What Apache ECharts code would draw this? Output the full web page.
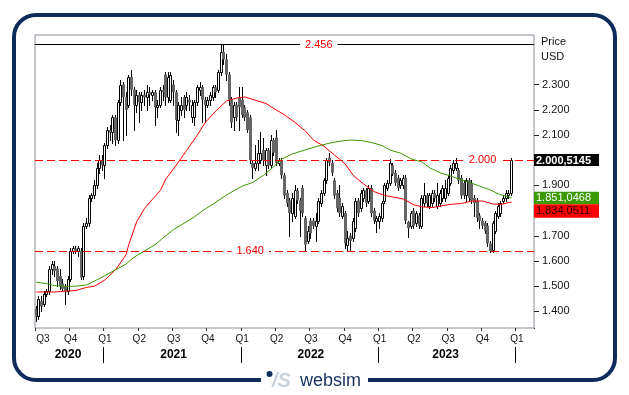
<!DOCTYPE html>
<html><head><meta charset="utf-8">
<script src="https://cdn.jsdelivr.net/npm/echarts@6/dist/echarts.min.js"></script>
<style>html,body{margin:0;padding:0;background:#fff}#c{width:629px;height:395px}</style>
</head><body><div id="c"></div>
<script>
// ---------- data ----------
const weekCount = 189;            // weekly slots on the time axis
const firstWeek = Date.UTC(2020, 6, 6);
const categories = [];
for (let k = 0; k < weekCount; k++) {
  categories.push(new Date(firstWeek + k * 7 * 86400000).toISOString().slice(0, 10));
}

// weekly bars: [open, close, low, high]
const ohlc = [
[1.41,1.38,1.36,1.42],[1.38,1.45,1.37,1.46],[1.44,1.42,1.40,1.46],[1.43,1.47,1.42,1.48],[1.47,1.48,1.46,1.49],
[1.48,1.57,1.47,1.58],[1.57,1.59,1.55,1.60],[1.58,1.56,1.54,1.60],[1.57,1.52,1.50,1.58],[1.54,1.50,1.49,1.57],
[1.51,1.49,1.48,1.53],[1.50,1.48,1.43,1.51],[1.48,1.53,1.47,1.54],[1.53,1.64,1.52,1.65],[1.64,1.65,1.63,1.66],
[1.65,1.64,1.63,1.66],[1.64,1.65,1.62,1.66],[1.64,1.535,1.53,1.65],[1.54,1.74,1.53,1.75],[1.74,1.75,1.73,1.77],
[1.75,1.85,1.74,1.86],[1.85,1.86,1.84,1.87],[1.86,1.90,1.85,1.92],[1.90,1.97,1.89,1.99],[1.97,2.00,1.95,2.02],
[2.00,1.98,1.96,2.02],[1.98,2.06,1.93,2.07],[2.06,2.12,2.05,2.13],[2.12,2.11,2.08,2.14],[2.11,2.17,2.07,2.18],
[2.17,2.08,2.06,2.18],[2.08,2.23,2.07,2.24],[2.23,2.30,2.22,2.32],[2.30,2.25,2.08,2.31],[2.25,2.20,2.10,2.27],
[2.22,2.33,2.21,2.34],[2.33,2.28,2.26,2.36],[2.28,2.22,2.12,2.29],[2.22,2.26,2.19,2.28],[2.26,2.23,2.15,2.27],
[2.23,2.26,2.20,2.27],[2.26,2.25,2.22,2.28],[2.25,2.27,2.20,2.30],[2.27,2.26,2.22,2.29],[2.26,2.27,2.24,2.28],
[2.27,2.21,2.14,2.28],[2.21,2.22,2.17,2.24],[2.22,2.28,2.21,2.29],[2.28,2.27,2.24,2.30],[2.34,2.25,2.22,2.35],
[2.25,2.33,2.23,2.35],[2.24,2.34,2.23,2.35],[2.30,2.27,2.22,2.32],[2.27,2.16,2.11,2.28],[2.16,2.22,2.10,2.23],
[2.20,2.22,2.18,2.25],[2.25,2.20,2.17,2.26],[2.22,2.25,2.20,2.27],[2.24,2.23,2.20,2.26],[2.17,2.22,2.15,2.24],
[2.17,2.23,2.14,2.24],[2.23,2.29,2.22,2.30],[2.28,2.29,2.26,2.31],[2.29,2.24,2.15,2.30],[2.24,2.22,2.15,2.25],
[2.22,2.24,2.21,2.25],[2.24,2.26,2.22,2.27],[2.25,2.29,2.24,2.30],[2.29,2.27,2.25,2.30],[2.28,2.35,2.27,2.36],
[2.35,2.43,2.34,2.456],[2.43,2.40,2.38,2.456],[2.40,2.34,2.32,2.42],[2.34,2.24,2.22,2.35],[2.24,2.15,2.13,2.25],
[2.17,2.22,2.12,2.23],[2.22,2.17,2.16,2.23],[2.25,2.21,2.12,2.29],[2.24,2.18,2.17,2.29],[2.21,2.17,2.16,2.22],
[2.19,2.12,2.11,2.20],[2.17,2.00,1.99,2.18],[1.99,1.97,1.93,2.00],[1.97,1.99,1.96,2.06],[1.99,2.03,1.96,2.08],
[2.00,2.03,1.99,2.11],[2.04,2.00,1.98,2.09],[1.98,2.04,1.94,2.05],[2.04,1.98,1.97,2.05],[1.98,2.08,1.97,2.10],
[2.08,2.03,2.02,2.09],[2.09,1.99,1.98,2.12],[1.99,2.00,1.98,2.01],[2.00,1.94,1.93,2.01],[1.94,1.86,1.85,1.95],
[1.87,1.83,1.82,1.88],[1.84,1.79,1.70,1.85],[1.79,1.85,1.76,1.87],[1.78,1.88,1.77,1.90],[1.88,1.84,1.83,1.89],
[1.84,1.80,1.70,1.85],[1.89,1.79,1.78,1.90],[1.77,1.665,1.64,1.78],[1.68,1.72,1.67,1.74],[1.76,1.71,1.69,1.77],
[1.76,1.74,1.73,1.77],[1.74,1.76,1.68,1.79],[1.76,1.84,1.75,1.85],[1.83,1.87,1.82,1.88],[1.87,1.92,1.86,1.93],
[1.92,2.00,1.91,2.01],[2.01,1.99,1.98,2.03],[1.99,1.95,1.94,2.00],[1.92,1.86,1.85,1.93],[1.87,1.81,1.80,1.88],
[1.85,1.79,1.78,1.90],[1.78,1.82,1.77,1.83],[1.79,1.67,1.65,1.80],[1.665,1.69,1.64,1.72],[1.70,1.68,1.64,1.71],
[1.69,1.76,1.68,1.77],[1.73,1.84,1.72,1.85],[1.84,1.79,1.78,1.85],[1.81,1.87,1.80,1.88],[1.85,1.88,1.84,1.89],
[1.88,1.83,1.82,1.89],[1.84,1.89,1.83,1.90],[1.89,1.79,1.78,1.90],[1.80,1.76,1.75,1.81],[1.76,1.77,1.715,1.78],
[1.76,1.78,1.73,1.79],[1.77,1.83,1.76,1.84],[1.84,1.90,1.83,1.91],[1.89,1.91,1.88,1.92],[1.91,1.99,1.90,2.006],
[1.98,1.945,1.94,1.99],[1.95,1.91,1.90,1.96],[1.93,1.89,1.88,1.94],[1.90,1.92,1.89,1.93],[1.90,1.93,1.89,1.94],
[1.93,1.76,1.75,1.94],[1.755,1.73,1.695,1.76],[1.74,1.79,1.73,1.80],[1.80,1.74,1.73,1.81],[1.75,1.79,1.74,1.80],
[1.78,1.74,1.73,1.79],[1.74,1.85,1.73,1.86],[1.83,1.86,1.82,1.91],[1.86,1.83,1.82,1.87],[1.82,1.86,1.81,1.87],
[1.83,1.87,1.82,1.88],[1.87,1.85,1.84,1.88],[1.82,1.86,1.81,1.91],[1.83,1.87,1.82,1.88],[1.85,1.89,1.84,1.90],
[1.85,1.89,1.84,1.92],[1.87,1.93,1.86,1.94],[1.91,1.97,1.90,1.98],[1.96,1.99,1.95,2.00],[1.97,1.99,1.96,2.01],
[1.96,1.92,1.91,1.97],[1.93,1.86,1.85,1.94],[1.91,1.86,1.85,1.92],[1.86,1.92,1.84,1.93],[1.92,1.85,1.84,1.93],
[1.91,1.84,1.83,1.92],[1.85,1.83,1.78,1.86],[1.84,1.77,1.76,1.85],[1.78,1.76,1.73,1.79],[1.76,1.74,1.73,1.77],
[1.75,1.72,1.71,1.76],[1.74,1.67,1.66,1.75],[1.67,1.64,1.635,1.68],[1.645,1.75,1.635,1.76],[1.72,1.79,1.71,1.80],
[1.78,1.82,1.77,1.83],[1.79,1.83,1.78,1.84],[1.84,1.85,1.83,1.86],[1.85,1.87,1.84,1.88],[1.86,1.87,1.85,1.88],
[1.87,2.0005,1.86,2.01]
];

// moving averages: [week index, value]
const maRed = [
[0,1.477],[7,1.477],[15,1.483],[19,1.495],[22,1.50],[26,1.525],[30,1.565],[34,1.625],[35,1.665],[38,1.755],
[41,1.809],[44,1.845],[47,1.88],[49,1.925],[53,1.98],[57,2.04],[61,2.10],[64,2.15],[68,2.195],[72,2.235],
[76,2.247],[79,2.251],[83,2.238],[87,2.225],[90,2.205],[94,2.18],[98,2.15],[102,2.115],[105,2.08],[109,2.055],
[113,2.02],[117,1.985],[120,1.94],[124,1.905],[128,1.875],[132,1.86],[135,1.854],[139,1.846],[143,1.823],[146,1.815],
[150,1.812],[154,1.82],[158,1.826],[161,1.828],[165,1.838],[169,1.838],[173,1.826],[176,1.825],[180,1.834]
];
const maGreen = [
[0,1.516],[4,1.51],[7,1.502],[11,1.499],[15,1.50],[19,1.505],[22,1.52],[26,1.542],[30,1.565],[34,1.588],
[37,1.615],[41,1.64],[45,1.665],[49,1.70],[52,1.725],[56,1.75],[60,1.776],[63,1.80],[67,1.826],[71,1.855],
[75,1.88],[78,1.897],[82,1.912],[86,1.94],[90,1.975],[93,2.005],[97,2.025],[101,2.038],[104,2.048],[108,2.06],
[112,2.07],[116,2.077],[119,2.08],[123,2.078],[127,2.07],[131,2.058],[134,2.04],[138,2.028],[142,2.005],[146,1.993],
[149,1.97],[153,1.95],[157,1.937],[160,1.925],[164,1.912],[168,1.897],[172,1.882],[175,1.866],[180,1.851]
];

const yTicks = [1.4, 1.5, 1.6, 1.7, 1.8, 1.9, 2.0, 2.1, 2.2, 2.3];
const levelHigh = 2.456, levelResistance = 2.000, levelSupport = 1.640;
const lastClose = { text: '2.000,5145', value: 2.0005145 };
const lastGreen = { text: '1.851,0468', value: 1.8510468 };
const lastRed   = { text: '1.834,0511', value: 1.8340511 };
const yearLabels = { 12: '2020', 52: '2021', 104: '2022', 155: '2023' };

// ---------- chart ----------
const FONT = '"Liberation Sans", Arial, sans-serif';
const isQuarterStart = (idx, v) => { const m = +v.slice(5, 7), d = +v.slice(8, 10); return (m - 1) % 3 === 0 && d <= 7; };
const isYearStart = (idx, v) => { const m = +v.slice(5, 7), d = +v.slice(8, 10); return m === 1 && d <= 7; };

const chart = echarts.init(document.getElementById('c'), null, { renderer: 'canvas' });

function renderCandle(params, api) {
  const i = api.value(0), o = api.value(1), c = api.value(2), l = api.value(3), h = api.value(4);
  const pO = api.coord([i, o]), pC = api.coord([i, c]), pL = api.coord([i, l]), pH = api.coord([i, h]);
  const X = Math.floor(pO[0]);
  const top = Math.min(pO[1], pC[1]), bot = Math.max(pO[1], pC[1]);
  const children = [{
    type: 'line',
    shape: { x1: X + 0.5, y1: Math.round(pH[1]), x2: X + 0.5, y2: Math.round(pL[1]) + 1 },
    style: { stroke: '#000', lineWidth: 1 }
  }];
  if (c >= o) {
    const t = Math.round(top), b = Math.round(bot);
    children.push({ type: 'rect', shape: { x: X - 0.5, y: t + 0.5, width: 2, height: Math.max(1, b - t) },
      style: { fill: '#fff', stroke: '#000', lineWidth: 1 } });
  } else {
    children.push({ type: 'rect', shape: { x: X - 1, y: top, width: 3, height: Math.max(1.5, bot - top) },
      style: { fill: '#666' } });
  }
  return { type: 'group', children };
}

chart.setOption({
  animation: false,
  backgroundColor: '#fff',
  textStyle: { fontFamily: FONT },
  grid: { left: 35, top: 35, right: 95, bottom: 67, show: true, borderColor: '#8c8c99', borderWidth: 1, backgroundColor: '#fff' },
  xAxis: [{
    type: 'category', data: categories, boundaryGap: true,
    axisLine: { show: false },
    axisTick: { show: true, length: 3, interval: isQuarterStart, lineStyle: { color: '#333' } },
    axisLabel: {
      interval: isQuarterStart,
      formatter: v => 'Q' + (Math.floor((+v.slice(5, 7) - 1) / 3) + 1),
      fontSize: 10, color: '#111', margin: 6, alignMinLabel: 'left', fontFamily: FONT
    },
    splitLine: { show: false }
  }, {
    type: 'category', data: categories, boundaryGap: true, position: 'bottom', offset: 19,
    axisLine: { show: false },
    axisTick: { show: true, length: 16, interval: isYearStart, lineStyle: { color: '#000' } },
    axisLabel: {
      interval: idx => yearLabels[idx] !== undefined,
      formatter: (v, idx) => yearLabels[idx] || '',
      fontSize: 12, fontWeight: 'bold', color: '#000', margin: 2, fontFamily: FONT
    },
    splitLine: { show: false }
  }],
  yAxis: {
    type: 'value', position: 'right', min: 1.334, max: 2.497,
    splitLine: { show: false },
    axisLine: { show: false },
    axisTick: { show: true, length: 5, customValues: yTicks, lineStyle: { color: '#222' } },
    axisLabel: { customValues: yTicks, formatter: v => v.toFixed(3), fontSize: 11, color: '#111', margin: 8, fontFamily: FONT }
  },
  series: [{
    type: 'custom', name: 'Price',
    data: ohlc.map((d, i) => [i, d[0], d[1], d[2], d[3]]),
    encode: { x: 0, y: [1, 2, 3, 4] },
    renderItem: renderCandle,
    z: 2
  }, {
    type: 'line', name: 'MA red', data: maRed, showSymbol: false, symbol: 'none',
    lineStyle: { color: '#ff0000', width: 1 }, z: 3, silent: true,
    markLine: {
      silent: true, symbol: ['none', 'none'], label: { show: false }, animation: false,
      data: [
        { yAxis: levelHigh, lineStyle: { color: '#000', type: 'solid', width: 1 } },
        { yAxis: levelResistance, lineStyle: { color: '#ff0000', type: [8, 4], width: 1 } },
        { yAxis: levelSupport, lineStyle: { color: '#ff0000', type: [8, 4], width: 1 } }
      ]
    },
    markPoint: {
      silent: true, symbol: 'rect', symbolSize: [1, 1], z: 10, animation: false,
      itemStyle: { color: 'rgba(0,0,0,0)' },
      label: { show: true, position: 'inside', color: '#ff0000', fontSize: 11, fontFamily: FONT,
        backgroundColor: '#fff', padding: [1, 5], formatter: p => p.name },
      data: [
        { name: levelHigh.toFixed(3), coord: [107, levelHigh] },
        { name: levelResistance.toFixed(3), coord: [169, levelResistance] },
        { name: levelSupport.toFixed(3), coord: [81, levelSupport] }
      ]
    }
  }, {
    type: 'line', name: 'MA green', data: maGreen, showSymbol: false, symbol: 'none',
    lineStyle: { color: '#3a9a00', width: 1 }, z: 3, silent: true
  }]
});

// ---------- decorations and value boxes ----------
const yOf = v => chart.convertToPixel({ yAxisIndex: 0 }, v);
const boxX = 534, boxW = 65;
const bY = yOf(lastClose.value) - 6;
const gY = yOf(lastGreen.value) - 6;
let rY = yOf(lastRed.value) - 6;
if (rY < gY + 12.5) rY = gY + 12.5;
const NAVY = '#0d2c5c';

chart.setOption({
  graphic: [
    { type: 'rect', z: 1, shape: { x: 14, y: 15, width: 601, height: 365, r: 22 }, style: { fill: 'none', stroke: NAVY, lineWidth: 4 } },
    { type: 'rect', z: 50, shape: { x: 531, y: 329, width: 7, height: 36 }, style: { fill: '#fff' } },
    { type: 'rect', z: 2, shape: { x: 261, y: 376, width: 107, height: 9 }, style: { fill: '#fff' } },
    { type: 'circle', z: 3, shape: { cx: 269.5, cy: 374, r: 3 }, style: { fill: NAVY } },
    { type: 'text', z: 3, style: { x: 272, y: 381, text: '/S', fill: '#c9d3e0', font: 'italic bold 20px ' + FONT, verticalAlign: 'middle' } },
    { type: 'text', z: 3, style: { x: 300, y: 381, text: 'websim', fill: '#14305e', font: '18px ' + FONT, verticalAlign: 'middle' } },
    { type: 'text', z: 3, style: { x: 541, y: 42, text: 'Price', fill: '#111', font: '11px ' + FONT, verticalAlign: 'middle' } },
    { type: 'text', z: 3, style: { x: 541, y: 57, text: 'USD', fill: '#111', font: '11px ' + FONT, verticalAlign: 'middle' } },
    { type: 'rect', z: 20, shape: { x: boxX, y: bY, width: boxW, height: 12 }, style: { fill: '#000' } },
    { type: 'text', z: 21, style: { x: boxX + 2, y: bY + 6.5, text: lastClose.text, fill: '#fff', font: 'bold 11px ' + FONT, verticalAlign: 'middle' } },
    { type: 'rect', z: 20, shape: { x: boxX, y: gY, width: boxW, height: 12.5 }, style: { fill: '#3a9a00' } },
    { type: 'text', z: 21, style: { x: boxX + 2, y: gY + 6.5, text: lastGreen.text, fill: '#fff', font: '11px ' + FONT, verticalAlign: 'middle' } },
    { type: 'rect', z: 20, shape: { x: boxX, y: rY, width: boxW, height: 13.5 }, style: { fill: '#ff0000' } },
    { type: 'text', z: 21, style: { x: boxX + 2, y: rY + 7, text: lastRed.text, fill: '#2a0000', font: '11px ' + FONT, verticalAlign: 'middle' } }
  ]
});
</script></body></html>
